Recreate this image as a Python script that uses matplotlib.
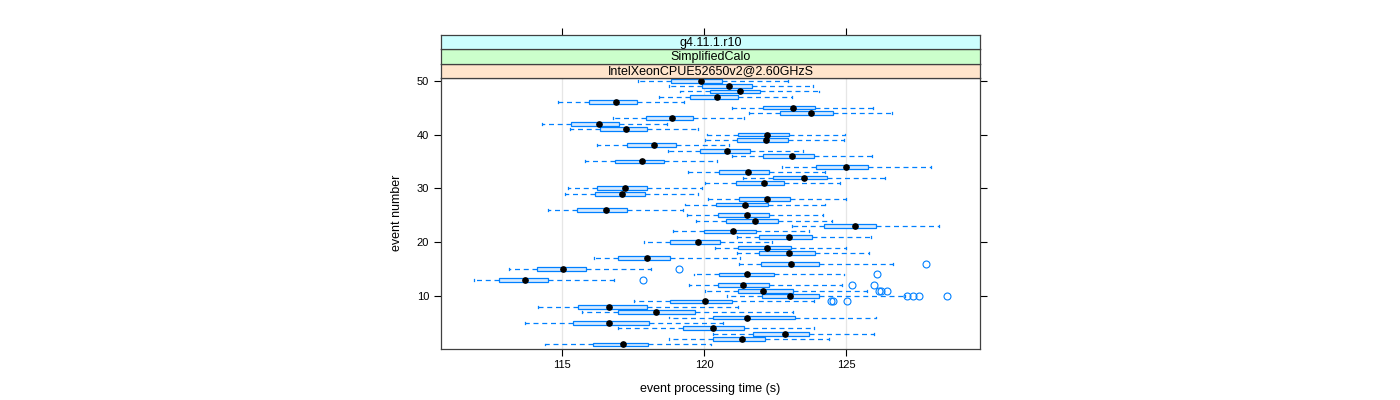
import matplotlib
matplotlib.use('Agg')
import matplotlib.pyplot as plt

plt.rcParams['font.family'] = ['Liberation Sans', 'DejaVu Sans']

events = list(range(1, 51))
whisk_lo = [114.40, 118.75, 120.30, 116.95, 113.69, 118.77, 115.70, 114.13, 117.54, 120.81,
            120.02, 119.47, 111.88, 119.65, 113.13, 121.23, 116.13, 121.16, 120.39, 117.89,
            121.16, 118.91, 123.10, 119.70, 119.38, 114.51, 119.33, 120.12, 115.11, 115.19,
            120.02, 121.37, 119.44, 122.75, 115.79, 120.96, 118.73, 116.23, 120.04, 120.11,
            115.26, 114.29, 116.80, 121.58, 120.99, 114.86, 118.39, 119.13, 118.77, 117.65]
q1 = [116.09, 120.30, 121.71, 119.26, 115.39, 120.30, 116.97, 115.56, 118.80, 122.04,
      121.20, 120.49, 112.78, 120.53, 114.12, 122.01, 116.97, 121.94, 121.20, 118.80,
      121.94, 120.00, 124.21, 120.78, 120.48, 115.53, 120.41, 121.22, 116.15, 116.22,
      121.11, 122.43, 120.53, 123.93, 116.84, 122.06, 119.86, 117.29, 121.14, 121.20,
      116.34, 115.32, 117.94, 122.68, 122.08, 115.95, 119.50, 120.21, 119.92, 118.83]
median = [117.14, 121.33, 122.83, 120.32, 116.63, 121.49, 118.29, 116.65, 120.04, 123.02,
          122.06, 121.37, 113.70, 121.51, 115.02, 123.05, 117.98, 122.99, 122.20, 119.77,
          122.98, 121.00, 125.30, 121.79, 121.49, 116.55, 121.44, 122.22, 117.11, 117.22,
          122.11, 123.53, 121.53, 125.00, 117.82, 123.09, 120.81, 118.24, 122.16, 122.21,
          117.25, 116.28, 118.87, 123.75, 123.11, 116.89, 120.46, 121.26, 120.88, 119.88]
q3 = [118.03, 122.15, 123.70, 121.41, 118.06, 123.20, 119.67, 117.97, 120.99, 124.04,
      123.13, 122.27, 114.51, 122.45, 115.82, 124.04, 118.80, 123.89, 123.06, 120.55,
      123.80, 121.81, 126.06, 122.58, 122.29, 117.27, 122.25, 123.03, 117.92, 117.98,
      122.82, 124.32, 122.29, 125.75, 118.59, 123.85, 121.61, 119.00, 122.94, 122.99,
      118.00, 116.99, 119.60, 124.52, 123.89, 117.62, 121.20, 121.98, 121.67, 120.61]
whisk_hi = [120.24, 124.38, 125.99, 123.87, 120.65, 126.06, 123.12, 121.20, 123.85, 127.08,
            125.73, 124.84, 116.82, 124.93, 118.11, 126.66, 121.26, 125.81, 125.00, 122.39,
            125.86, 123.70, 128.27, 124.50, 124.19, 119.24, 124.26, 125.00, 119.79, 119.91,
            124.78, 126.37, 124.26, 127.97, 120.46, 125.89, 123.49, 120.88, 124.91, 124.96,
            119.79, 118.70, 121.41, 126.60, 125.95, 119.30, 123.10, 124.04, 123.84, 122.96]
outliers = {
    9: [124.46, 124.52, 125.02],
    10: [127.13, 127.34, 127.57, 128.55],
    11: [126.15, 126.22, 126.45],
    12: [125.21, 125.96],
    13: [117.84],
    14: [126.07],
    15: [119.10],
    16: [127.80],
}
strip_labels = ['IntelXeonCPUE52650v2@2.60GHzS', 'SimplifiedCalo', 'g4.11.1.r10']
strip_colors = ['#ffe5cc', '#ccffcc', '#ccffff']
x_ticks = [115, 120, 125]
y_ticks = [10, 20, 30, 40, 50]

BLUE = '#0080ff'
xlim = (110.73, 129.71)

fig = plt.figure(figsize=(14, 4), dpi=100)
ax_l, ax_b, ax_w, ax_h = 441/1400, (400-348.5)/400, 539/1400, (348.5-78)/400
ax = fig.add_axes([ax_l, ax_b, ax_w, ax_h])

stats = []
for i, e in enumerate(events):
    stats.append(dict(med=median[i], q1=q1[i], q3=q3[i],
                      whislo=whisk_lo[i], whishi=whisk_hi[i],
                      fliers=outliers.get(e, [])))

ax.bxp(stats, positions=events, orientation='horizontal', widths=0.7,
       capwidths=0.35, showfliers=True, patch_artist=True, manage_ticks=False,
       boxprops=dict(facecolor='#d6eaff', edgecolor=BLUE, linewidth=0.9),
       whiskerprops=dict(color=BLUE, linestyle=(0, (4, 3)), linewidth=0.9),
       capprops=dict(color=BLUE, linewidth=0.9),
       medianprops=dict(linewidth=0),
       flierprops=dict(marker='o', markerfacecolor='none', markeredgecolor=BLUE,
                       markersize=5, markeredgewidth=0.8))
ax.plot(median, events, 'o', color='black', markersize=3.8, zorder=5)

ax.set_xlim(*xlim)
ax.set_ylim(0.25, 50.5)
ax.set_xticks(x_ticks)
ax.set_xticklabels([str(t) for t in x_ticks])
ax.set_yticks(y_ticks)
ax.set_yticklabels([str(t) for t in y_ticks])
ax.tick_params(axis='both', direction='out', length=5, width=0.8, labelsize=8, colors='black')
ax.tick_params(axis='y', right=True, labelright=False)
ax.set_axisbelow(True)
ax.xaxis.grid(True, color='#e6e6e6', linewidth=0.9)
for s in ax.spines.values():
    s.set_linewidth(0.9)
    s.set_color('#404040')
ax.set_xlabel('event processing time (s)', fontsize=9, labelpad=9)
ax.set_ylabel('event number', fontsize=9, labelpad=10)

sh = 14.3/400
top = ax_b + ax_h
for i, (lab, col) in enumerate(zip(strip_labels, strip_colors)):
    sa = fig.add_axes([ax_l, top + i*sh, ax_w, sh])
    sa.set_facecolor(col)
    sa.set_xlim(*xlim)
    sa.set_ylim(0, 1)
    sa.set_yticks([])
    for s in sa.spines.values():
        s.set_linewidth(0.9)
        s.set_color('#404040')
    sa.text(0.5, 0.45, lab, transform=sa.transAxes, ha='center', va='center', fontsize=9)
    if i == len(strip_labels) - 1:
        sa.set_xticks(x_ticks)
        sa.tick_params(axis='x', bottom=False, labelbottom=False, top=True, labeltop=False,
                       direction='out', length=5, width=0.8)
    else:
        sa.set_xticks([])

fig.savefig('out.png', dpi=100)
